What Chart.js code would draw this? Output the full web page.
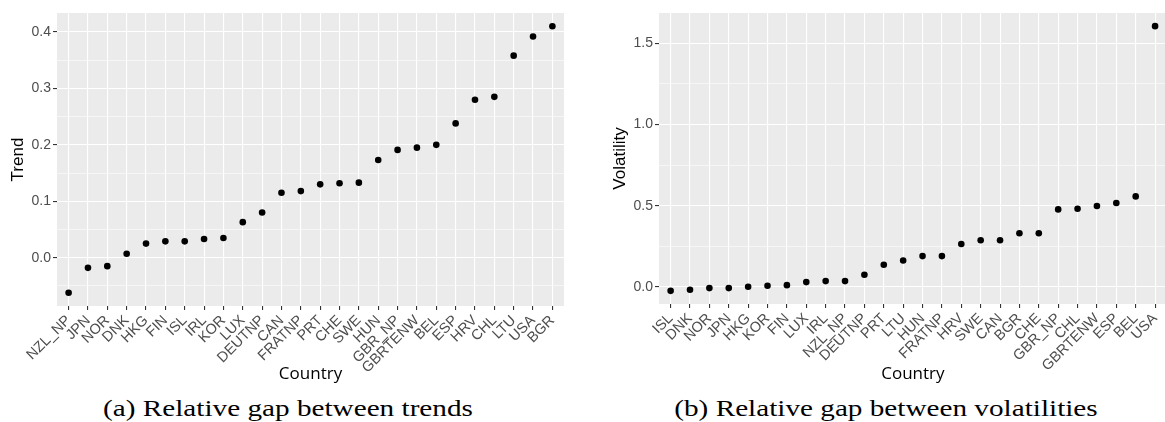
<!DOCTYPE html>
<html>
<head>
<meta charset="utf-8">
<script src="https://cdn.jsdelivr.net/npm/chart.js@4.4.1/dist/chart.umd.min.js"></script>
<style>
  html, body { margin: 0; padding: 0; background: #fff; width: 1165px; height: 422px; overflow: hidden; position: relative; }
  .painel { position: absolute; top: 0; width: 580px; height: 392px; }
  .legenda {
    position: absolute; top: 397px; width: 600px; text-align: center;
    font-family: 'Liberation Serif', serif; font-size: 23px; line-height: 23px;
    color: #000; white-space: nowrap; transform: scaleX(1.27);
  }
</style>
</head>
<body>
<div class="painel" style="left:0"><canvas id="graficoTrend"></canvas></div>
<div class="painel" style="left:590px"><canvas id="graficoVol"></canvas></div>
<div class="legenda" style="left:-12px">(a) Relative gap between trends</div>
<div class="legenda" style="left:586px">(b) Relative gap between volatilities</div>

<script>
// (a) relative gap between trends, sorted
const trendCountries = ['NZL_NP', 'JPN', 'NOR', 'DNK', 'HKG', 'FIN', 'ISL', 'IRL', 'KOR', 'LUX', 'DEUTNP', 'CAN', 'FRATNP',
  'PRT', 'CHE', 'SWE', 'HUN', 'GBR_NP', 'GBRTENW', 'BEL', 'ESP', 'HRV', 'CHL', 'LTU', 'USA', 'BGR'];
const trendValues = [-0.062, -0.018, -0.015, 0.007, 0.025, 0.029, 0.029, 0.033, 0.035, 0.063, 0.080, 0.115, 0.118,
  0.130, 0.132, 0.133, 0.173, 0.191, 0.195, 0.200, 0.238, 0.280, 0.285, 0.358, 0.392, 0.410];
const trendMajor = [0, 0.1, 0.2, 0.3, 0.4];
const trendMinor = [-0.05, 0.05, 0.15, 0.25, 0.35];

// (b) relative gap between volatilities, sorted
const volCountries = ['ISL', 'DNK', 'NOR', 'JPN', 'HKG', 'KOR', 'FIN', 'LUX', 'IRL', 'NZL_NP', 'DEUTNP', 'PRT', 'LTU',
  'HUN', 'FRATNP', 'HRV', 'SWE', 'CAN', 'BGR', 'CHE', 'GBR_NP', 'CHL', 'GBRTENW', 'ESP', 'BEL', 'USA'];
const volValues = [-0.025, -0.018, -0.008, -0.008, 0.000, 0.006, 0.010, 0.029, 0.035, 0.035, 0.074, 0.136, 0.162,
  0.189, 0.189, 0.264, 0.287, 0.287, 0.330, 0.330, 0.477, 0.481, 0.498, 0.516, 0.557, 1.606];
const volMajor = [0, 0.5, 1.0, 1.5];
const volMinor = [0.25, 0.75, 1.25];

// painel cinza estilo ggplot
const fundoPainel = {
  id: 'fundoPainel',
  beforeDraw(chart) {
    const { ctx, chartArea: a } = chart;
    ctx.save();
    ctx.fillStyle = '#EBEBEB';
    ctx.fillRect(a.left, a.top, a.right - a.left, a.bottom - a.top);
    ctx.restore();
  }
};

const corTick = '#4D4D4D';
const fonteTickY = { family: "'Liberation Sans', Arial, sans-serif", size: 14 };
const fonteTickX = { family: "'Liberation Sans', Arial, sans-serif", size: 14.5 };

function criarGrafico(id, cfg) {
  const ticksY = [...cfg.major, ...cfg.minor].sort((a, b) => a - b);
  const ehMajor = v => cfg.major.some(m => Math.abs(m - v) < 1e-9);

  return new Chart(document.getElementById(id), {
    type: 'scatter',
    data: {
      datasets: [{
        data: cfg.valores.map((v, i) => ({ x: i, y: v })),
        backgroundColor: '#000',
        borderWidth: 0,
        pointRadius: 3.3,
        pointHoverRadius: 3.3
      }]
    },
    plugins: [fundoPainel],
    options: {
      responsive: true,
      maintainAspectRatio: false,
      animation: false,
      layout: { padding: { top: 13, right: cfg.direita, left: 0, bottom: 0 } },
      plugins: { legend: { display: false }, tooltip: { enabled: false } },
      scales: {
        x: {
          type: 'linear',
          min: -0.6,
          max: cfg.categorias.length - 0.4,
          afterBuildTicks: s => { s.ticks = cfg.categorias.map((_, i) => ({ value: i })); },
          afterFit: s => { s.height = cfg.alturaX; },
          ticks: {
            autoSkip: false, minRotation: 45, maxRotation: 45, padding: 2,
            color: corTick, font: fonteTickX,
            callback: v => cfg.categorias[v]
          },
          grid: { color: '#fff', lineWidth: 1.1, tickColor: '#333', tickLength: 4, tickWidth: 1.1 },
          border: { display: false },
          title: {
            display: true, text: 'Country', color: '#000',
            font: { family: "'Open Sans', sans-serif", size: 17 },
            padding: { top: 0, bottom: 8 }
          }
        },
        y: {
          min: cfg.yMin,
          max: cfg.yMax,
          afterBuildTicks: s => { s.ticks = ticksY.map(v => ({ value: v })); },
          afterFit: s => { s.width = cfg.larguraY; },
          ticks: {
            autoSkip: false, padding: 2, color: corTick, font: fonteTickY,
            callback: v => ehMajor(v) ? v.toFixed(1) : ''
          },
          grid: {
            color: '#fff',
            lineWidth: c => ehMajor(c.tick.value) ? 1.1 : 0.55,
            tickColor: c => ehMajor(c.tick.value) ? '#333' : 'rgba(0,0,0,0)',
            tickLength: 4,
            tickWidth: 1.1
          },
          border: { display: false },
          title: {
            display: true, text: cfg.tituloY, color: '#000',
            font: { family: "'Liberation Sans', Arial, sans-serif", size: 17 },
            padding: { top: cfg.padTitulo, bottom: 0 }
          }
        }
      }
    }
  });
}

criarGrafico('graficoTrend', {
  categorias: trendCountries, valores: trendValues,
  major: trendMajor, minor: trendMinor,
  yMin: -0.0856, yMax: 0.4336,
  tituloY: 'Trend', larguraY: 57, alturaX: 86, direita: 16, padTitulo: 8
});

criarGrafico('graficoVol', {
  categorias: volCountries, valores: volValues,
  major: volMajor, minor: volMinor,
  yMin: -0.106, yMax: 1.687,
  tituloY: 'Volatility', larguraY: 69, alturaX: 88, direita: 3, padTitulo: 20
});
</script>
</body>
</html>
